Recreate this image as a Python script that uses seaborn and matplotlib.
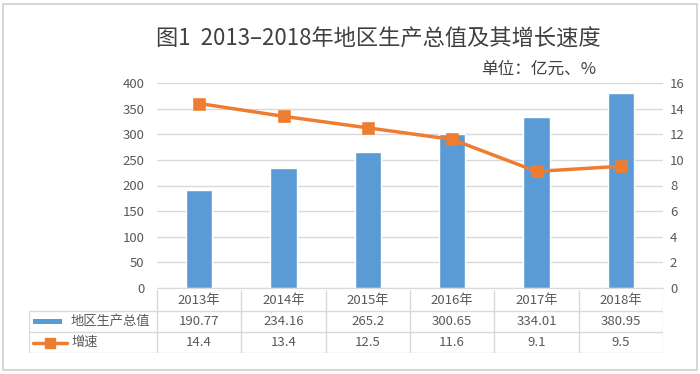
import matplotlib
matplotlib.use("Agg")
import matplotlib.pyplot as plt
from matplotlib.patches import Rectangle
import seaborn as sns

# Datos
years = ["2013年", "2014年", "2015年", "2016年", "2017年", "2018年"]
gdp = [190.77, 234.16, 265.2, 300.65, 334.01, 380.95]
growth = [14.4, 13.4, 12.5, 11.6, 9.1, 9.5]
row_names = ["地区生产总值", "增速"]

blue = "#5B9BD5"
orange = "#ED7D31"
grid_c = "#D9D9D9"
txt_c = "#595959"

sns.set_style("white")
plt.rcParams["font.family"] = ["Noto Sans CJK SC", "DejaVu Sans"]

W, H = 700, 374
fig = plt.figure(figsize=(W / 100, H / 100), dpi=100)


def px(l, t, r, b):
    return [l / W, 1 - b / H, (r - l) / W, (b - t) / H]


# borde exterior
fig.patches.append(Rectangle((3 / W, 4 / H), 694 / W, 366 / H, transform=fig.transFigure,
                             fill=False, edgecolor="#D0D0D0", lw=1.2))

# Barras
ax = fig.add_axes(px(157, 83, 663, 288))
sns.barplot(x=years, y=gdp, color=blue, width=0.31, saturation=1, ax=ax, zorder=2)
ax.set_ylim(0, 400)
ax.set_yticks(range(0, 401, 50))
ax.set_xlim(-0.5, 5.5)
ax.grid(axis="y", color=grid_c, lw=1)
ax.set_axisbelow(True)
ax.set_xlabel("")
ax.set_ylabel("")
ax.tick_params(axis="x", length=0, labelbottom=False)
ax.tick_params(axis="y", length=0, pad=9, labelsize=9.5, labelcolor=txt_c)
for s in ["top", "right", "left"]:
    ax.spines[s].set_visible(False)
ax.spines["bottom"].set_color(grid_c)

# Linea de crecimiento
ax2 = ax.twinx()
sns.pointplot(x=years, y=growth, color=orange, markers="s", linestyles="-",
              errorbar=None, markersize=6.5, linewidth=2.5, ax=ax2)
ax2.set_ylim(0, 16)
ax2.set_yticks(range(0, 17, 2))
ax2.set_xlim(-0.5, 5.5)
ax2.set_xlabel("")
ax2.set_ylabel("")
ax2.tick_params(axis="y", length=0, pad=5, labelsize=9.5, labelcolor=txt_c)
ax2.tick_params(axis="x", length=0, labelbottom=False)
for s in ax2.spines.values():
    s.set_visible(False)

# Tabla de datos
tab = fig.add_axes(px(29, 290, 663, 353))
col_w = (663 - 157) / len(years)
x0 = -0.5 - (157 - 29) / col_w
tab.set_xlim(x0, len(years) - 0.5)
tab.set_ylim(3, 0)
tab.axis("off")
for i in range(len(years) + 1):
    tab.plot([i - 0.5, i - 0.5], [0, 3], color=grid_c, lw=1)
tab.plot([x0, x0], [1, 3], color=grid_c, lw=1)
for r in [1, 2, 3]:
    tab.plot([x0, len(years) - 0.5], [r, r], color=grid_c, lw=1)

for i, y in enumerate(years):
    tab.text(i, 0.5, y, ha="center", va="center", fontsize=9.5, color=txt_c)
for i, v in enumerate(gdp):
    tab.text(i, 1.5, str(v), ha="center", va="center", fontsize=9.5, color=txt_c)
for i, v in enumerate(growth):
    tab.text(i, 2.5, str(v), ha="center", va="center", fontsize=9.5, color=txt_c)

u = 1 / col_w
tab.add_patch(Rectangle((x0 + 4 * u, 1.36), 29 * u, 0.28, color=blue, lw=0))
tab.plot([x0 + 4 * u, x0 + 38 * u], [2.5, 2.5], color=orange, lw=2.5)
tab.plot([x0 + 21 * u], [2.5], marker="s", color=orange, markersize=6.5)
for r, name in enumerate(row_names):
    tab.text(x0 + 42 * u, 1.5 + r, name, ha="left", va="center", fontsize=9.5, color=txt_c)

# Titulos
fig.text(378 / W, 1 - 39 / H, "图1  2013–2018年地区生产总值及其增长速度", ha="center", va="center",
         fontsize=16, color="#404040")
fig.text(596 / W, 1 - 69 / H, "单位：亿元、%", ha="right", va="center", fontsize=12, color="#404040")

fig.savefig("out.png", dpi=100)
